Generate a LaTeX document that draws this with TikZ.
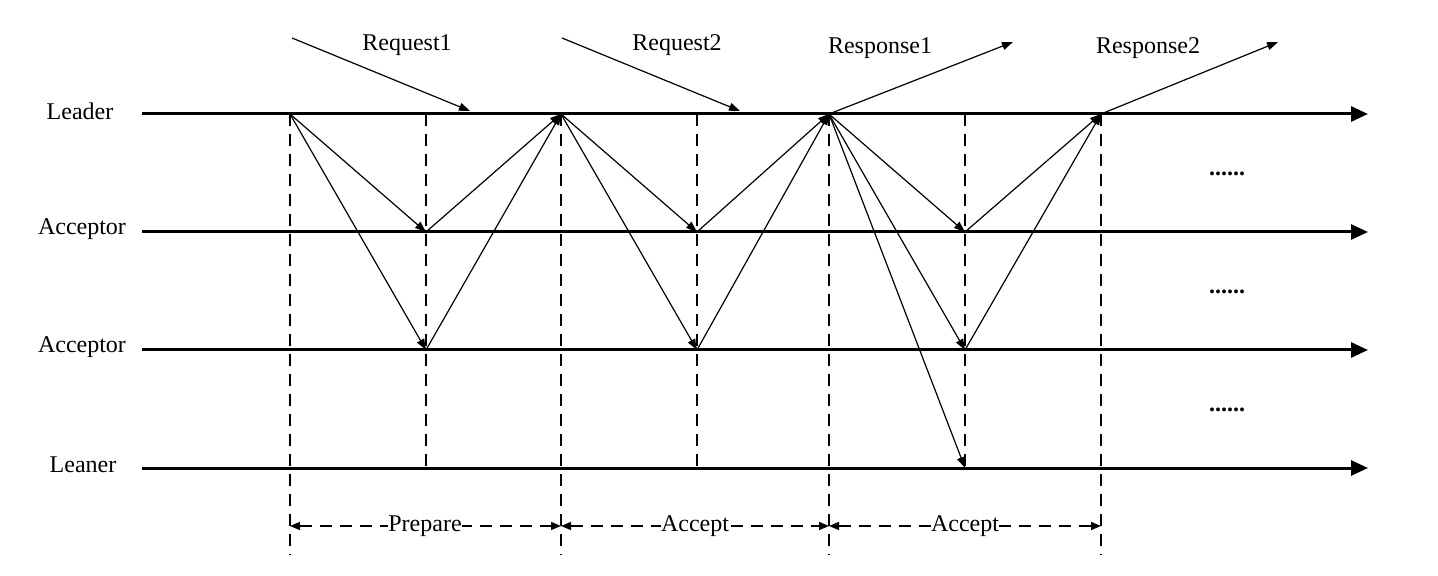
\documentclass[tikz,border=0pt]{standalone}
\usepackage{fontspec}
\setmainfont{Liberation Serif}
\usetikzlibrary{arrows.meta}
\begin{document}
\begin{tikzpicture}[x=0.5pt,y=-0.5pt,
  lane/.style={line width=1.5pt,-{Triangle[length=8.5pt,width=7.5pt]}},
  msg/.style={line width=0.6pt,-{Triangle[length=5.5pt,width=4pt]}},
  guide/.style={line width=0.9pt,dash pattern=on 6pt off 4pt},
  span/.style={line width=0.8pt,dash pattern=on 6pt off 4pt,{Triangle[length=5pt,width=4pt]}-{Triangle[length=5pt,width=4pt]}},
  lbl/.style={font=\fontsize{12}{14}\selectfont,inner sep=1pt},
  dots/.style={font=\fontsize{12}{14}\selectfont\bfseries,inner sep=0pt}]
\useasboundingbox (0,0) rectangle (1438,576);
% lane labels
\node[lbl] (lLeader) at (80,111) {Leader};
\node[lbl] (lAcc1) at (82,229) {Acceptor};
\node[lbl] (lAcc2) at (82,347) {Acceptor};
\node[lbl] (lLeaner) at (83,465) {Leaner};
% lane lines
\coordinate (L0) at (142,114); \coordinate (L1) at (1368,114);
\coordinate (A0) at (142,232); \coordinate (A1) at (1368,232);
\coordinate (B0) at (142,350); \coordinate (B1) at (1368,350);
\coordinate (C0) at (142,468); \coordinate (C1) at (1368,468);
% guide coordinates
\foreach \n/\x in {p1/290,p2/561,p3/829,p4/1101}{
  \coordinate (\n t) at (\x,114); \coordinate (\n b) at (\x,555);}
\foreach \n/\x in {q1/426,q2/697,q3/965}{
  \coordinate (\n t) at (\x,114); \coordinate (\n a) at (\x,232);
  \coordinate (\n c) at (\x,350); \coordinate (\n b) at (\x,468);}
\foreach \n in {p1,p2,p3,p4}{\draw[guide] (\n t) -- (\n b);}
\foreach \n in {q1,q2,q3}{\draw[guide] (\n t) -- (\n b);}
\draw[lane] (L0) -- (L1);
\draw[lane] (A0) -- (A1);
\draw[lane] (B0) -- (B1);
\draw[lane] (C0) -- (C1);
% messages
\draw[msg] (p1t) -- (q1a); \draw[msg] (p1t) -- (q1c);
\draw[msg] (q1a) -- (p2t); \draw[msg] (q1c) -- (p2t);
\draw[msg] (p2t) -- (q2a); \draw[msg] (p2t) -- (q2c);
\draw[msg] (q2a) -- (p3t); \draw[msg] (q2c) -- (p3t);
\draw[msg] (p3t) -- (q3a); \draw[msg] (p3t) -- (q3c); \draw[msg] (p3t) -- (q3b);
\draw[msg] (q3a) -- (p4t); \draw[msg] (q3c) -- (p4t);
% requests and responses
\coordinate (r1s) at (292,38); \coordinate (r1e) at (470,111);
\coordinate (r2s) at (562,38); \coordinate (r2e) at (740,111);
\coordinate (s1e) at (1013,42); \coordinate (s2e) at (1278,42);
\draw[msg] (r1s) -- (r1e);
\draw[msg] (r2s) -- (r2e);
\draw[msg] (p3t) -- (s1e);
\draw[msg] (p4t) -- (s2e);
\node[lbl] (tR1) at (407,45) {Request1};
\node[lbl] (tR2) at (677,45) {Request2};
\node[lbl] (tS1) at (880,48) {Response1};
\node[lbl] (tS2) at (1148,48) {Response2};
% spans
\coordinate (s1a) at (290,526); \coordinate (s1b) at (561,526);
\coordinate (s2a) at (561,526); \coordinate (s2b) at (829,526);
\coordinate (s3a) at (829,526); \coordinate (s3b) at (1101,526);
\draw[span] (s1a) -- (s1b);
\draw[span] (s2a) -- (s2b);
\draw[span] (s3a) -- (s3b);
\node[lbl,fill=white,inner xsep=0pt] (tP) at (425,526) {Prepare};
\node[lbl,fill=white,inner xsep=0pt] (tA1) at (695,526) {Accept};
\node[lbl,fill=white,inner xsep=0pt] (tA2) at (965,526) {Accept};
% dots
\node[dots] (d1) at (1227,174) {......};
\node[dots] (d2) at (1227,292) {......};
\node[dots] (d3) at (1227,410) {......};
\end{tikzpicture}
\end{document}
